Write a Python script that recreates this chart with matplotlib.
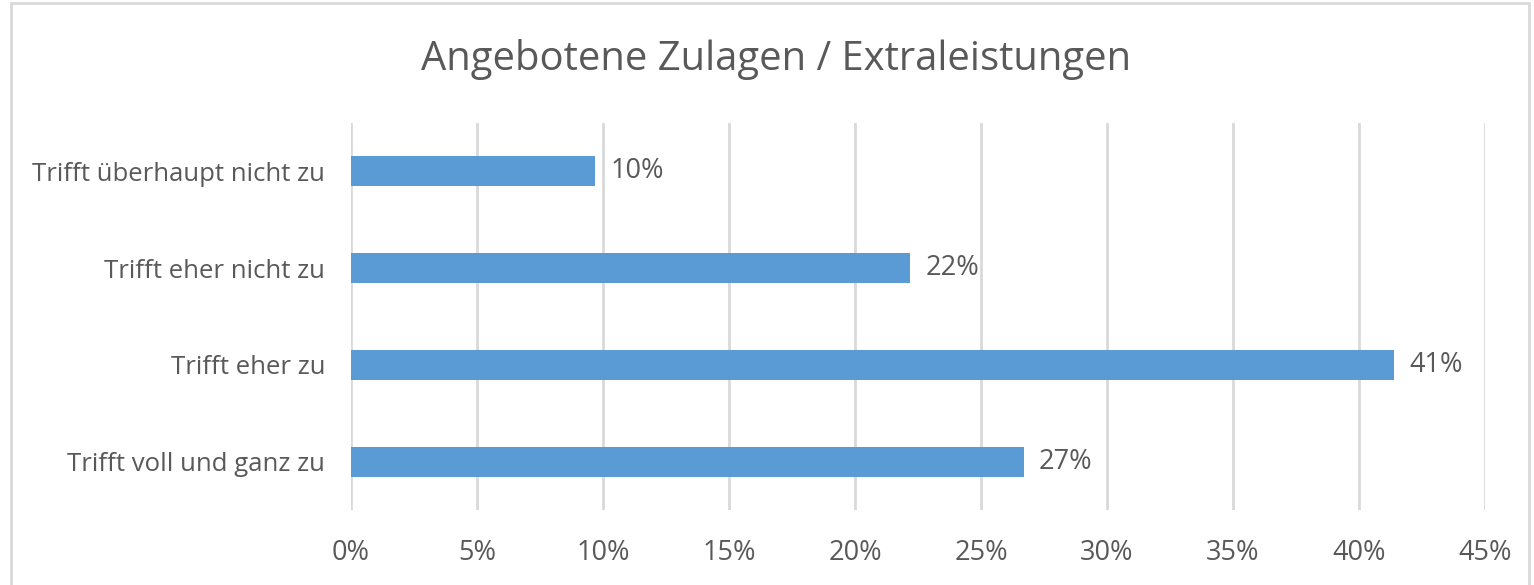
import matplotlib
matplotlib.use('Agg')
from matplotlib import pyplot as plt
from matplotlib.patches import Rectangle
import numpy as np

plt.rcParams['font.family'] = ['Open Sans', 'DejaVu Sans']

title = 'Angebotene Zulagen / Extraleistungen'
categories = ['Trifft voll und ganz zu', 'Trifft eher zu',
              'Trifft eher nicht zu', 'Trifft überhaupt nicht zu']
values = [0.267, 0.414, 0.222, 0.097]
labels = ['27%', '41%', '22%', '10%']
xticks = [0, 0.05, 0.10, 0.15, 0.20, 0.25, 0.30, 0.35, 0.40, 0.45]

text_col = '#595959'
grid_col = '#D9D9D9'
bar_col = '#5B9BD5'

fig = plt.figure(figsize=(15.34, 5.85), dpi=100)
fig.patches.append(Rectangle((11 / 1534, -0.01), 1518 / 1534, 1 - 3 / 585 + 0.01,
                             transform=fig.transFigure, fill=False,
                             edgecolor=grid_col, linewidth=2))

ax = fig.add_axes([351 / 1534, 1 - 510 / 585, (1485 - 351) / 1534, (510 - 123) / 585])
y = np.arange(len(categories))
ax.barh(y, values, height=0.31, color=bar_col, zorder=3)
for yi, v, lab in zip(y, values, labels):
    ax.text(v + 0.006, yi, lab, va='center', ha='left', fontsize=19.5, color=text_col)

ax.set_xlim(0, 0.45)
ax.set_ylim(-0.5, 3.5)
ax.set_xticks(xticks)
ax.set_xticklabels([f'{int(round(t * 100))}%' for t in xticks])
ax.set_yticks(y)
ax.set_yticklabels(categories)
ax.tick_params(axis='both', length=0, colors=text_col)
ax.tick_params(axis='x', pad=21, labelsize=19.5)
ax.tick_params(axis='y', pad=18.5, labelsize=18.5)
ax.grid(axis='x', color=grid_col, linewidth=2, zorder=0)
for s in ax.spines.values():
    s.set_visible(False)

fig.text(776 / 1534, 1 - 60 / 585, title, ha='center', va='center',
         fontsize=28.8, color=text_col)

fig.savefig('out.png', dpi=100)
